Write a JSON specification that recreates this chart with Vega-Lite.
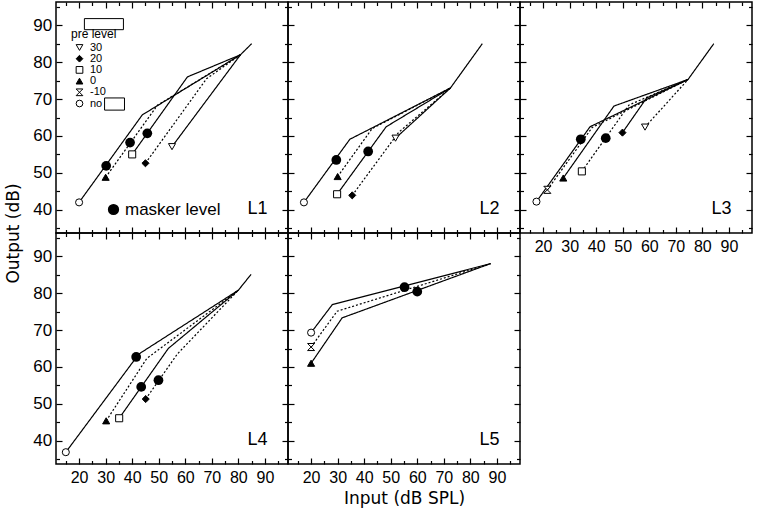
{
"$schema":"https://vega.github.io/schema/vega-lite/v6.json",
"background":"white",
"padding":{"left":4,"top":0,"right":4,"bottom":4},
"datasets":{
"lines":[
{"p":"L1","c":"no","o":1,"x":20,"y":42,"d":"solid"},{"p":"L1","c":"no","o":2,"x":43.8,"y":65.7,"d":"solid"},{"p":"L1","c":"no","o":3,"x":80.8,"y":82,"d":"solid"},{"p":"L1","c":"no","o":4,"x":85,"y":85,"d":"solid"},
{"p":"L1","c":"0","o":1,"x":30,"y":48.8,"d":"dotted"},{"p":"L1","c":"0","o":2,"x":49.5,"y":68.3,"d":"dotted"},{"p":"L1","c":"0","o":3,"x":80.8,"y":82,"d":"dotted"},
{"p":"L1","c":"10","o":1,"x":40,"y":55,"d":"solid"},{"p":"L1","c":"10","o":2,"x":60.8,"y":76,"d":"solid"},{"p":"L1","c":"10","o":3,"x":80.8,"y":82,"d":"solid"},
{"p":"L1","c":"20","o":1,"x":45,"y":52.6,"d":"dotted"},{"p":"L1","c":"20","o":2,"x":68,"y":75.5,"d":"dotted"},{"p":"L1","c":"20","o":3,"x":80.8,"y":82,"d":"dotted"},
{"p":"L1","c":"30","o":1,"x":55,"y":57.1,"d":"solid"},{"p":"L1","c":"30","o":2,"x":80.8,"y":82,"d":"solid"},
{"p":"L2","c":"no","o":1,"x":17.3,"y":42,"d":"solid"},{"p":"L2","c":"no","o":2,"x":34.6,"y":59.1,"d":"solid"},{"p":"L2","c":"no","o":3,"x":72.5,"y":73,"d":"solid"},{"p":"L2","c":"no","o":4,"x":84.5,"y":85,"d":"solid"},
{"p":"L2","c":"0","o":1,"x":30,"y":49,"d":"dotted"},{"p":"L2","c":"0","o":2,"x":43,"y":62,"d":"dotted"},{"p":"L2","c":"0","o":3,"x":72.5,"y":73,"d":"dotted"},
{"p":"L2","c":"10","o":1,"x":29.8,"y":44.2,"d":"solid"},{"p":"L2","c":"10","o":2,"x":48.3,"y":62.5,"d":"solid"},{"p":"L2","c":"10","o":3,"x":72.5,"y":73,"d":"solid"},
{"p":"L2","c":"20","o":1,"x":35.5,"y":43.9,"d":"dotted"},{"p":"L2","c":"20","o":2,"x":53,"y":61,"d":"dotted"},{"p":"L2","c":"20","o":3,"x":72.5,"y":73,"d":"dotted"},
{"p":"L2","c":"30","o":1,"x":51.8,"y":59.4,"d":"solid"},{"p":"L2","c":"30","o":2,"x":72.5,"y":73,"d":"solid"},
{"p":"L3","c":"no","o":1,"x":17.5,"y":42.2,"d":"solid"},{"p":"L3","c":"no","o":2,"x":37.7,"y":62.5,"d":"solid"},{"p":"L3","c":"no","o":3,"x":74.6,"y":75.3,"d":"solid"},{"p":"L3","c":"no","o":4,"x":84.3,"y":85,"d":"solid"},
{"p":"L3","c":"-10","o":1,"x":21.6,"y":45.4,"d":"dotted"},{"p":"L3","c":"-10","o":2,"x":38.5,"y":62.3,"d":"dotted"},{"p":"L3","c":"-10","o":3,"x":74.6,"y":75.3,"d":"dotted"},
{"p":"L3","c":"0","o":1,"x":27.6,"y":48.6,"d":"solid"},{"p":"L3","c":"0","o":2,"x":46.7,"y":68.1,"d":"solid"},{"p":"L3","c":"0","o":3,"x":74.6,"y":75.3,"d":"solid"},
{"p":"L3","c":"10","o":1,"x":34.6,"y":50.4,"d":"dotted"},{"p":"L3","c":"10","o":2,"x":52.4,"y":68.4,"d":"dotted"},{"p":"L3","c":"10","o":3,"x":74.6,"y":75.3,"d":"dotted"},
{"p":"L3","c":"20","o":1,"x":49.9,"y":60.9,"d":"solid"},{"p":"L3","c":"20","o":2,"x":59,"y":70.3,"d":"solid"},{"p":"L3","c":"20","o":3,"x":74.6,"y":75.3,"d":"solid"},
{"p":"L3","c":"30","o":1,"x":58.4,"y":62.4,"d":"dotted"},{"p":"L3","c":"30","o":2,"x":74.6,"y":75.3,"d":"dotted"},
{"p":"L4","c":"no","o":1,"x":15,"y":36.9,"d":"solid"},{"p":"L4","c":"no","o":2,"x":42.5,"y":63.5,"d":"solid"},{"p":"L4","c":"no","o":3,"x":80,"y":80.8,"d":"solid"},{"p":"L4","c":"no","o":4,"x":84.8,"y":85.1,"d":"solid"},
{"p":"L4","c":"0","o":1,"x":30.2,"y":45.4,"d":"dotted"},{"p":"L4","c":"0","o":2,"x":45.5,"y":62.3,"d":"dotted"},{"p":"L4","c":"0","o":3,"x":80,"y":80.8,"d":"dotted"},
{"p":"L4","c":"10","o":1,"x":35.1,"y":46.1,"d":"solid"},{"p":"L4","c":"10","o":2,"x":53.6,"y":65,"d":"solid"},{"p":"L4","c":"10","o":3,"x":80,"y":80.8,"d":"solid"},
{"p":"L4","c":"20","o":1,"x":45.1,"y":51.3,"d":"dotted"},{"p":"L4","c":"20","o":2,"x":57,"y":63.5,"d":"dotted"},{"p":"L4","c":"20","o":3,"x":80,"y":80.8,"d":"dotted"},
{"p":"L5","c":"no","o":1,"x":20,"y":69.3,"d":"solid"},{"p":"L5","c":"no","o":2,"x":28,"y":76.9,"d":"solid"},{"p":"L5","c":"no","o":3,"x":87.6,"y":88,"d":"solid"},
{"p":"L5","c":"-10","o":1,"x":20,"y":65.4,"d":"dotted"},{"p":"L5","c":"-10","o":2,"x":29.8,"y":75.1,"d":"dotted"},{"p":"L5","c":"-10","o":3,"x":87.6,"y":88,"d":"dotted"},
{"p":"L5","c":"0","o":1,"x":20,"y":61,"d":"solid"},{"p":"L5","c":"0","o":2,"x":31.7,"y":73.3,"d":"solid"},{"p":"L5","c":"0","o":3,"x":87.6,"y":88,"d":"solid"}
],
"pts":[
{"p":"L1","c":"no","x":20,"y":42},{"p":"L1","c":"0","x":30,"y":48.8},{"p":"L1","c":"10","x":40,"y":55},{"p":"L1","c":"20","x":45,"y":52.6},{"p":"L1","c":"30","x":55,"y":57.1},
{"p":"L2","c":"no","x":17.3,"y":42},{"p":"L2","c":"0","x":30,"y":49},{"p":"L2","c":"10","x":29.8,"y":44.2},{"p":"L2","c":"20","x":35.5,"y":43.9},{"p":"L2","c":"30","x":51.8,"y":59.4},
{"p":"L3","c":"no","x":17.5,"y":42.2},{"p":"L3","c":"-10","x":21.6,"y":45.4},{"p":"L3","c":"0","x":27.6,"y":48.6},{"p":"L3","c":"10","x":34.6,"y":50.4},{"p":"L3","c":"20","x":49.9,"y":60.9},{"p":"L3","c":"30","x":58.4,"y":62.4},
{"p":"L4","c":"no","x":15,"y":36.9},{"p":"L4","c":"0","x":30.2,"y":45.4},{"p":"L4","c":"10","x":35.1,"y":46.1},{"p":"L4","c":"20","x":45.1,"y":51.3},
{"p":"L5","c":"no","x":20,"y":69.3},{"p":"L5","c":"-10","x":20,"y":65.4},{"p":"L5","c":"0","x":20,"y":61}
],
"msk":[
{"p":"L1","x":30.2,"y":51.9},{"p":"L1","x":39.2,"y":58.2},{"p":"L1","x":45.7,"y":60.7},
{"p":"L2","x":29.5,"y":53.5},{"p":"L2","x":41.5,"y":55.8},
{"p":"L3","x":34.2,"y":59.1},{"p":"L3","x":43.6,"y":59.4},
{"p":"L4","x":41.5,"y":62.7},{"p":"L4","x":43.4,"y":54.6},{"p":"L4","x":49.9,"y":56.4},
{"p":"L5","x":55.2,"y":81.6},{"p":"L5","x":60,"y":80.4}
]
},
"columns":3,
"spacing":0,
"bounds":"flush",
"concat":[
{"width":232,"height":231,"resolve":{"axis":{"x":"independent","y":"independent"}},
"layer":[
{"data":{"name":"lines"},"transform":[{"filter":"datum.p=='L1'"}],"mark":{"type":"line","color":"black","strokeWidth":1.2},
"encoding":{"x":{"field":"x","type":"quantitative","scale":{"domain":[11.3,98.7],"nice":false,"zero":false},"axis":{"orient":"bottom","values":[20,30,40,50,60,70,80,90],"tickSize":-6,"labels":false,"title":null}},
"y":{"field":"y","type":"quantitative","scale":{"domain":[33.7,96.3],"nice":false,"zero":false},"axis":{"orient":"left","values":[40,50,60,70,80,90],"tickSize":-6,"labelPadding":10.3,"labelFontSize":17,"title":"Output (dB)","titleY":231,"titlePadding":10}},
"detail":{"field":"c"},"order":{"field":"o","type":"quantitative"},
"strokeDash":{"field":"d","type":"nominal","scale":{"domain":["solid","dotted"],"range":[[1,0],[2,2]]},"legend":null}}},
{"data":{"name":"pts"},"transform":[{"filter":"datum.p=='L1'"}],"mark":{"type":"point","filled":true,"strokeWidth":1,"size":50,"opacity":1},
"encoding":{"x":{"field":"x","type":"quantitative","scale":{"domain":[11.3,98.7],"nice":false,"zero":false},"axis":{"orient":"bottom","values":[15,25,35,45,55,65,75,85,95],"tickSize":-3.5,"labels":false,"title":null}},
"y":{"field":"y","type":"quantitative","scale":{"domain":[33.7,96.3],"nice":false,"zero":false},"axis":{"orient":"left","values":[35,45,55,65,75,85,95],"tickSize":-3.5,"labels":false,"title":null}},
"shape":{"field":"c","type":"nominal","scale":{"domain":["30","20","10","0","-10","no"],"range":["triangle-down","diamond","square","triangle-up","M-1,-1H1L-1,1H1Z","circle"]},"legend":{"title":"pre level","orient":"none","legendX":15,"legendY":27,"titleFontSize":12,"titleFontWeight":"normal","titlePadding":1,"labelFontSize":11,"symbolSize":45,"symbolStrokeWidth":1,"rowPadding":-0.8,"labelOffset":5,"symbolOffset":3,"padding":0}},
"fill":{"field":"c","type":"nominal","scale":{"domain":["30","20","10","0","-10","no"],"range":["white","black","white","black","white","white"]},"legend":{"title":"pre level","orient":"none","legendX":15,"legendY":27,"titleFontSize":12,"titleFontWeight":"normal","titlePadding":1,"labelFontSize":11,"symbolSize":45,"symbolStrokeWidth":1,"rowPadding":-0.8,"labelOffset":5,"symbolOffset":3,"padding":0}},
"stroke":{"field":"c","type":"nominal","scale":{"domain":["30","20","10","0","-10","no"],"range":["black","black","black","black","black","black"]},"legend":{"title":"pre level","orient":"none","legendX":15,"legendY":27,"titleFontSize":12,"titleFontWeight":"normal","titlePadding":1,"labelFontSize":11,"symbolSize":45,"symbolStrokeWidth":1,"rowPadding":-0.8,"labelOffset":5,"symbolOffset":3,"padding":0}}}},
{"data":{"name":"msk"},"transform":[{"filter":"datum.p=='L1'"}],"mark":{"type":"point","filled":true,"shape":"circle","size":95,"opacity":1},
"encoding":{"x":{"field":"x","type":"quantitative","scale":{"domain":[11.3,98.7],"nice":false,"zero":false},"axis":{"orient":"top","values":[20,30,40,50,60,70,80,90],"tickSize":-6,"labels":false,"title":null}},
"y":{"field":"y","type":"quantitative","scale":{"domain":[33.7,96.3],"nice":false,"zero":false},"axis":{"orient":"right","values":[40,50,60,70,80,90],"tickSize":-6,"labels":false,"title":null}},
"color":{"datum":"masker level","type":"nominal","scale":{"range":["black"]},"legend":{"title":null,"orient":"none","legendX":49,"legendY":199,"labelFontSize":17,"symbolSize":95,"symbolType":"circle","symbolFillColor":"black","symbolStrokeColor":"black","labelOffset":3,"padding":0}}}},
{"data":{"values":[{}]},"mark":{"type":"text","align":"right","baseline":"middle","fontSize":18,"font":"Liberation Sans","color":"black"},
"encoding":{"x":{"datum":91,"type":"quantitative","scale":{"domain":[11.3,98.7],"nice":false,"zero":false},"axis":{"orient":"top","values":[15,25,35,45,55,65,75,85,95],"tickSize":-3.5,"labels":false,"title":null}},
"y":{"datum":40.3,"type":"quantitative","scale":{"domain":[33.7,96.3],"nice":false,"zero":false},"axis":{"orient":"right","values":[35,45,55,65,75,85,95],"tickSize":-3.5,"labels":false,"title":null}},
"text":{"value":"L1"}}},
{"data":{"values":[{}]},"mark":{"type":"rect","fill":"white","stroke":"black","strokeWidth":1},
"encoding":{"x":{"datum":22,"type":"quantitative","axis":null},"x2":{"datum":36.7},"y":{"datum":91.8,"type":"quantitative","axis":null},"y2":{"datum":88.8}}},
{"data":{"values":[{}]},"mark":{"type":"rect","fill":"white","stroke":"black","strokeWidth":1},
"encoding":{"x":{"datum":29.6,"type":"quantitative","axis":null},"x2":{"datum":37.1},"y":{"datum":70.3,"type":"quantitative","axis":null},"y2":{"datum":67}}}
]},
{"width":232,"height":231,"resolve":{"axis":{"x":"independent","y":"independent"}},
"layer":[
{"data":{"name":"lines"},"transform":[{"filter":"datum.p=='L2'"}],"mark":{"type":"line","color":"black","strokeWidth":1.2},
"encoding":{"x":{"field":"x","type":"quantitative","scale":{"domain":[11.3,98.7],"nice":false,"zero":false},"axis":{"orient":"bottom","values":[20,30,40,50,60,70,80,90],"tickSize":-6,"labels":false,"title":null}},
"y":{"field":"y","type":"quantitative","scale":{"domain":[33.7,96.3],"nice":false,"zero":false},"axis":{"orient":"left","values":[40,50,60,70,80,90],"tickSize":-6,"labels":false,"title":null}},
"detail":{"field":"c"},"order":{"field":"o","type":"quantitative"},
"strokeDash":{"field":"d","type":"nominal","scale":{"domain":["solid","dotted"],"range":[[1,0],[2,2]]},"legend":null}}},
{"data":{"name":"pts"},"transform":[{"filter":"datum.p=='L2'"}],"mark":{"type":"point","filled":true,"strokeWidth":1,"size":50,"opacity":1},
"encoding":{"x":{"field":"x","type":"quantitative","scale":{"domain":[11.3,98.7],"nice":false,"zero":false},"axis":{"orient":"bottom","values":[15,25,35,45,55,65,75,85,95],"tickSize":-3.5,"labels":false,"title":null}},
"y":{"field":"y","type":"quantitative","scale":{"domain":[33.7,96.3],"nice":false,"zero":false},"axis":{"orient":"left","values":[35,45,55,65,75,85,95],"tickSize":-3.5,"labels":false,"title":null}},
"shape":{"field":"c","type":"nominal","scale":{"domain":["30","20","10","0","-10","no"],"range":["triangle-down","diamond","square","triangle-up","M-1,-1H1L-1,1H1Z","circle"]},"legend":{"title":"pre level","orient":"none","legendX":15,"legendY":27,"titleFontSize":12,"titleFontWeight":"normal","titlePadding":1,"labelFontSize":11,"symbolSize":45,"symbolStrokeWidth":1,"rowPadding":-0.8,"labelOffset":5,"symbolOffset":3,"padding":0}},
"fill":{"field":"c","type":"nominal","scale":{"domain":["30","20","10","0","-10","no"],"range":["white","black","white","black","white","white"]},"legend":{"title":"pre level","orient":"none","legendX":15,"legendY":27,"titleFontSize":12,"titleFontWeight":"normal","titlePadding":1,"labelFontSize":11,"symbolSize":45,"symbolStrokeWidth":1,"rowPadding":-0.8,"labelOffset":5,"symbolOffset":3,"padding":0}},
"stroke":{"field":"c","type":"nominal","scale":{"domain":["30","20","10","0","-10","no"],"range":["black","black","black","black","black","black"]},"legend":{"title":"pre level","orient":"none","legendX":15,"legendY":27,"titleFontSize":12,"titleFontWeight":"normal","titlePadding":1,"labelFontSize":11,"symbolSize":45,"symbolStrokeWidth":1,"rowPadding":-0.8,"labelOffset":5,"symbolOffset":3,"padding":0}}}},
{"data":{"name":"msk"},"transform":[{"filter":"datum.p=='L2'"}],"mark":{"type":"point","filled":true,"shape":"circle","size":95,"opacity":1},
"encoding":{"x":{"field":"x","type":"quantitative","scale":{"domain":[11.3,98.7],"nice":false,"zero":false},"axis":{"orient":"top","values":[20,30,40,50,60,70,80,90],"tickSize":-6,"labels":false,"title":null}},
"y":{"field":"y","type":"quantitative","scale":{"domain":[33.7,96.3],"nice":false,"zero":false},"axis":{"orient":"right","values":[40,50,60,70,80,90],"tickSize":-6,"labels":false,"title":null}},
"color":{"datum":"masker level","type":"nominal","scale":{"range":["black"]},"legend":{"title":null,"orient":"none","legendX":49,"legendY":199,"labelFontSize":17,"symbolSize":95,"symbolType":"circle","symbolFillColor":"black","symbolStrokeColor":"black","labelOffset":3,"padding":0}}}},
{"data":{"values":[{}]},"mark":{"type":"text","align":"right","baseline":"middle","fontSize":18,"font":"Liberation Sans","color":"black"},
"encoding":{"x":{"datum":91,"type":"quantitative","scale":{"domain":[11.3,98.7],"nice":false,"zero":false},"axis":{"orient":"top","values":[15,25,35,45,55,65,75,85,95],"tickSize":-3.5,"labels":false,"title":null}},
"y":{"datum":40.3,"type":"quantitative","scale":{"domain":[33.7,96.3],"nice":false,"zero":false},"axis":{"orient":"right","values":[35,45,55,65,75,85,95],"tickSize":-3.5,"labels":false,"title":null}},
"text":{"value":"L2"}}}
]},
{"width":232,"height":231,"resolve":{"axis":{"x":"independent","y":"independent"}},
"layer":[
{"data":{"name":"lines"},"transform":[{"filter":"datum.p=='L3'"}],"mark":{"type":"line","color":"black","strokeWidth":1.2},
"encoding":{"x":{"field":"x","type":"quantitative","scale":{"domain":[11.3,98.7],"nice":false,"zero":false},"axis":{"orient":"bottom","values":[20,30,40,50,60,70,80,90],"tickSize":-6,"labels":true,"labelPadding":11,"title":null}},
"y":{"field":"y","type":"quantitative","scale":{"domain":[33.7,96.3],"nice":false,"zero":false},"axis":{"orient":"left","values":[40,50,60,70,80,90],"tickSize":-6,"labels":false,"title":null}},
"detail":{"field":"c"},"order":{"field":"o","type":"quantitative"},
"strokeDash":{"field":"d","type":"nominal","scale":{"domain":["solid","dotted"],"range":[[1,0],[2,2]]},"legend":null}}},
{"data":{"name":"pts"},"transform":[{"filter":"datum.p=='L3'"}],"mark":{"type":"point","filled":true,"strokeWidth":1,"size":50,"opacity":1},
"encoding":{"x":{"field":"x","type":"quantitative","scale":{"domain":[11.3,98.7],"nice":false,"zero":false},"axis":{"orient":"bottom","values":[15,25,35,45,55,65,75,85,95],"tickSize":-3.5,"labels":false,"title":null}},
"y":{"field":"y","type":"quantitative","scale":{"domain":[33.7,96.3],"nice":false,"zero":false},"axis":{"orient":"left","values":[35,45,55,65,75,85,95],"tickSize":-3.5,"labels":false,"title":null}},
"shape":{"field":"c","type":"nominal","scale":{"domain":["30","20","10","0","-10","no"],"range":["triangle-down","diamond","square","triangle-up","M-1,-1H1L-1,1H1Z","circle"]},"legend":{"title":"pre level","orient":"none","legendX":15,"legendY":27,"titleFontSize":12,"titleFontWeight":"normal","titlePadding":1,"labelFontSize":11,"symbolSize":45,"symbolStrokeWidth":1,"rowPadding":-0.8,"labelOffset":5,"symbolOffset":3,"padding":0}},
"fill":{"field":"c","type":"nominal","scale":{"domain":["30","20","10","0","-10","no"],"range":["white","black","white","black","white","white"]},"legend":{"title":"pre level","orient":"none","legendX":15,"legendY":27,"titleFontSize":12,"titleFontWeight":"normal","titlePadding":1,"labelFontSize":11,"symbolSize":45,"symbolStrokeWidth":1,"rowPadding":-0.8,"labelOffset":5,"symbolOffset":3,"padding":0}},
"stroke":{"field":"c","type":"nominal","scale":{"domain":["30","20","10","0","-10","no"],"range":["black","black","black","black","black","black"]},"legend":{"title":"pre level","orient":"none","legendX":15,"legendY":27,"titleFontSize":12,"titleFontWeight":"normal","titlePadding":1,"labelFontSize":11,"symbolSize":45,"symbolStrokeWidth":1,"rowPadding":-0.8,"labelOffset":5,"symbolOffset":3,"padding":0}}}},
{"data":{"name":"msk"},"transform":[{"filter":"datum.p=='L3'"}],"mark":{"type":"point","filled":true,"shape":"circle","size":95,"opacity":1},
"encoding":{"x":{"field":"x","type":"quantitative","scale":{"domain":[11.3,98.7],"nice":false,"zero":false},"axis":{"orient":"top","values":[20,30,40,50,60,70,80,90],"tickSize":-6,"labels":false,"title":null}},
"y":{"field":"y","type":"quantitative","scale":{"domain":[33.7,96.3],"nice":false,"zero":false},"axis":{"orient":"right","values":[40,50,60,70,80,90],"tickSize":-6,"labels":false,"title":null}},
"color":{"datum":"masker level","type":"nominal","scale":{"range":["black"]},"legend":{"title":null,"orient":"none","legendX":49,"legendY":199,"labelFontSize":17,"symbolSize":95,"symbolType":"circle","symbolFillColor":"black","symbolStrokeColor":"black","labelOffset":3,"padding":0}}}},
{"data":{"values":[{}]},"mark":{"type":"text","align":"right","baseline":"middle","fontSize":18,"font":"Liberation Sans","color":"black"},
"encoding":{"x":{"datum":91,"type":"quantitative","scale":{"domain":[11.3,98.7],"nice":false,"zero":false},"axis":{"orient":"top","values":[15,25,35,45,55,65,75,85,95],"tickSize":-3.5,"labels":false,"title":null}},
"y":{"datum":40.3,"type":"quantitative","scale":{"domain":[33.7,96.3],"nice":false,"zero":false},"axis":{"orient":"right","values":[35,45,55,65,75,85,95],"tickSize":-3.5,"labels":false,"title":null}},
"text":{"value":"L3"}}}
]},
{"width":232,"height":231,"resolve":{"axis":{"x":"independent","y":"independent"}},
"layer":[
{"data":{"name":"lines"},"transform":[{"filter":"datum.p=='L4'"}],"mark":{"type":"line","color":"black","strokeWidth":1.2},
"encoding":{"x":{"field":"x","type":"quantitative","scale":{"domain":[11.3,98.7],"nice":false,"zero":false},"axis":{"orient":"bottom","values":[20,30,40,50,60,70,80,90],"tickSize":-6,"labels":true,"labelPadding":11,"title":null}},
"y":{"field":"y","type":"quantitative","scale":{"domain":[33.7,96.3],"nice":false,"zero":false},"axis":{"orient":"left","values":[40,50,60,70,80,90],"tickSize":-6,"labelPadding":10.3,"labelFontSize":17,"title":null}},
"detail":{"field":"c"},"order":{"field":"o","type":"quantitative"},
"strokeDash":{"field":"d","type":"nominal","scale":{"domain":["solid","dotted"],"range":[[1,0],[2,2]]},"legend":null}}},
{"data":{"name":"pts"},"transform":[{"filter":"datum.p=='L4'"}],"mark":{"type":"point","filled":true,"strokeWidth":1,"size":50,"opacity":1},
"encoding":{"x":{"field":"x","type":"quantitative","scale":{"domain":[11.3,98.7],"nice":false,"zero":false},"axis":{"orient":"bottom","values":[15,25,35,45,55,65,75,85,95],"tickSize":-3.5,"labels":false,"title":null}},
"y":{"field":"y","type":"quantitative","scale":{"domain":[33.7,96.3],"nice":false,"zero":false},"axis":{"orient":"left","values":[35,45,55,65,75,85,95],"tickSize":-3.5,"labels":false,"title":null}},
"shape":{"field":"c","type":"nominal","scale":{"domain":["30","20","10","0","-10","no"],"range":["triangle-down","diamond","square","triangle-up","M-1,-1H1L-1,1H1Z","circle"]},"legend":{"title":"pre level","orient":"none","legendX":15,"legendY":27,"titleFontSize":12,"titleFontWeight":"normal","titlePadding":1,"labelFontSize":11,"symbolSize":45,"symbolStrokeWidth":1,"rowPadding":-0.8,"labelOffset":5,"symbolOffset":3,"padding":0}},
"fill":{"field":"c","type":"nominal","scale":{"domain":["30","20","10","0","-10","no"],"range":["white","black","white","black","white","white"]},"legend":{"title":"pre level","orient":"none","legendX":15,"legendY":27,"titleFontSize":12,"titleFontWeight":"normal","titlePadding":1,"labelFontSize":11,"symbolSize":45,"symbolStrokeWidth":1,"rowPadding":-0.8,"labelOffset":5,"symbolOffset":3,"padding":0}},
"stroke":{"field":"c","type":"nominal","scale":{"domain":["30","20","10","0","-10","no"],"range":["black","black","black","black","black","black"]},"legend":{"title":"pre level","orient":"none","legendX":15,"legendY":27,"titleFontSize":12,"titleFontWeight":"normal","titlePadding":1,"labelFontSize":11,"symbolSize":45,"symbolStrokeWidth":1,"rowPadding":-0.8,"labelOffset":5,"symbolOffset":3,"padding":0}}}},
{"data":{"name":"msk"},"transform":[{"filter":"datum.p=='L4'"}],"mark":{"type":"point","filled":true,"shape":"circle","size":95,"opacity":1},
"encoding":{"x":{"field":"x","type":"quantitative","scale":{"domain":[11.3,98.7],"nice":false,"zero":false},"axis":{"orient":"top","values":[20,30,40,50,60,70,80,90],"tickSize":-6,"labels":false,"title":null}},
"y":{"field":"y","type":"quantitative","scale":{"domain":[33.7,96.3],"nice":false,"zero":false},"axis":{"orient":"right","values":[40,50,60,70,80,90],"tickSize":-6,"labels":false,"title":null}},
"color":{"datum":"masker level","type":"nominal","scale":{"range":["black"]},"legend":{"title":null,"orient":"none","legendX":49,"legendY":199,"labelFontSize":17,"symbolSize":95,"symbolType":"circle","symbolFillColor":"black","symbolStrokeColor":"black","labelOffset":3,"padding":0}}}},
{"data":{"values":[{}]},"mark":{"type":"text","align":"right","baseline":"middle","fontSize":18,"font":"Liberation Sans","color":"black"},
"encoding":{"x":{"datum":91,"type":"quantitative","scale":{"domain":[11.3,98.7],"nice":false,"zero":false},"axis":{"orient":"top","values":[15,25,35,45,55,65,75,85,95],"tickSize":-3.5,"labels":false,"title":null}},
"y":{"datum":40.3,"type":"quantitative","scale":{"domain":[33.7,96.3],"nice":false,"zero":false},"axis":{"orient":"right","values":[35,45,55,65,75,85,95],"tickSize":-3.5,"labels":false,"title":null}},
"text":{"value":"L4"}}}
]},
{"width":232,"height":231,"resolve":{"axis":{"x":"independent","y":"independent"}},
"layer":[
{"data":{"name":"lines"},"transform":[{"filter":"datum.p=='L5'"}],"mark":{"type":"line","color":"black","strokeWidth":1.2},
"encoding":{"x":{"field":"x","type":"quantitative","scale":{"domain":[11.3,98.7],"nice":false,"zero":false},"axis":{"orient":"bottom","values":[20,30,40,50,60,70,80,90],"tickSize":-6,"labels":true,"labelPadding":11,"title":"Input (dB SPL)","titlePadding":5}},
"y":{"field":"y","type":"quantitative","scale":{"domain":[33.7,96.3],"nice":false,"zero":false},"axis":{"orient":"left","values":[40,50,60,70,80,90],"tickSize":-6,"labels":false,"title":null}},
"detail":{"field":"c"},"order":{"field":"o","type":"quantitative"},
"strokeDash":{"field":"d","type":"nominal","scale":{"domain":["solid","dotted"],"range":[[1,0],[2,2]]},"legend":null}}},
{"data":{"name":"pts"},"transform":[{"filter":"datum.p=='L5'"}],"mark":{"type":"point","filled":true,"strokeWidth":1,"size":50,"opacity":1},
"encoding":{"x":{"field":"x","type":"quantitative","scale":{"domain":[11.3,98.7],"nice":false,"zero":false},"axis":{"orient":"bottom","values":[15,25,35,45,55,65,75,85,95],"tickSize":-3.5,"labels":false,"title":null}},
"y":{"field":"y","type":"quantitative","scale":{"domain":[33.7,96.3],"nice":false,"zero":false},"axis":{"orient":"left","values":[35,45,55,65,75,85,95],"tickSize":-3.5,"labels":false,"title":null}},
"shape":{"field":"c","type":"nominal","scale":{"domain":["30","20","10","0","-10","no"],"range":["triangle-down","diamond","square","triangle-up","M-1,-1H1L-1,1H1Z","circle"]},"legend":{"title":"pre level","orient":"none","legendX":15,"legendY":27,"titleFontSize":12,"titleFontWeight":"normal","titlePadding":1,"labelFontSize":11,"symbolSize":45,"symbolStrokeWidth":1,"rowPadding":-0.8,"labelOffset":5,"symbolOffset":3,"padding":0}},
"fill":{"field":"c","type":"nominal","scale":{"domain":["30","20","10","0","-10","no"],"range":["white","black","white","black","white","white"]},"legend":{"title":"pre level","orient":"none","legendX":15,"legendY":27,"titleFontSize":12,"titleFontWeight":"normal","titlePadding":1,"labelFontSize":11,"symbolSize":45,"symbolStrokeWidth":1,"rowPadding":-0.8,"labelOffset":5,"symbolOffset":3,"padding":0}},
"stroke":{"field":"c","type":"nominal","scale":{"domain":["30","20","10","0","-10","no"],"range":["black","black","black","black","black","black"]},"legend":{"title":"pre level","orient":"none","legendX":15,"legendY":27,"titleFontSize":12,"titleFontWeight":"normal","titlePadding":1,"labelFontSize":11,"symbolSize":45,"symbolStrokeWidth":1,"rowPadding":-0.8,"labelOffset":5,"symbolOffset":3,"padding":0}}}},
{"data":{"name":"msk"},"transform":[{"filter":"datum.p=='L5'"}],"mark":{"type":"point","filled":true,"shape":"circle","size":95,"opacity":1},
"encoding":{"x":{"field":"x","type":"quantitative","scale":{"domain":[11.3,98.7],"nice":false,"zero":false},"axis":{"orient":"top","values":[20,30,40,50,60,70,80,90],"tickSize":-6,"labels":false,"title":null}},
"y":{"field":"y","type":"quantitative","scale":{"domain":[33.7,96.3],"nice":false,"zero":false},"axis":{"orient":"right","values":[40,50,60,70,80,90],"tickSize":-6,"labels":false,"title":null}},
"color":{"datum":"masker level","type":"nominal","scale":{"range":["black"]},"legend":{"title":null,"orient":"none","legendX":49,"legendY":199,"labelFontSize":17,"symbolSize":95,"symbolType":"circle","symbolFillColor":"black","symbolStrokeColor":"black","labelOffset":3,"padding":0}}}},
{"data":{"values":[{}]},"mark":{"type":"text","align":"right","baseline":"middle","fontSize":18,"font":"Liberation Sans","color":"black"},
"encoding":{"x":{"datum":91,"type":"quantitative","scale":{"domain":[11.3,98.7],"nice":false,"zero":false},"axis":{"orient":"top","values":[15,25,35,45,55,65,75,85,95],"tickSize":-3.5,"labels":false,"title":null}},
"y":{"datum":40.3,"type":"quantitative","scale":{"domain":[33.7,96.3],"nice":false,"zero":false},"axis":{"orient":"right","values":[35,45,55,65,75,85,95],"tickSize":-3.5,"labels":false,"title":null}},
"text":{"value":"L5"}}}
]}
],
"config":{
"view":{"stroke":"black","strokeWidth":1.5},
"axis":{"domain":false,"grid":false,"tickColor":"black","tickWidth":1.2,"labelFont":"Liberation Sans","labelFontSize":16,"labelColor":"black","labelOverlap":false,"labelFlush":false,"titleFont":"DejaVu Sans","titleFontSize":17,"titleFontWeight":"normal","titleColor":"black"},
"legend":{"labelFont":"Liberation Sans","labelColor":"black","titleFont":"Liberation Sans","titleColor":"black"},
"font":"Liberation Sans"
}
}
